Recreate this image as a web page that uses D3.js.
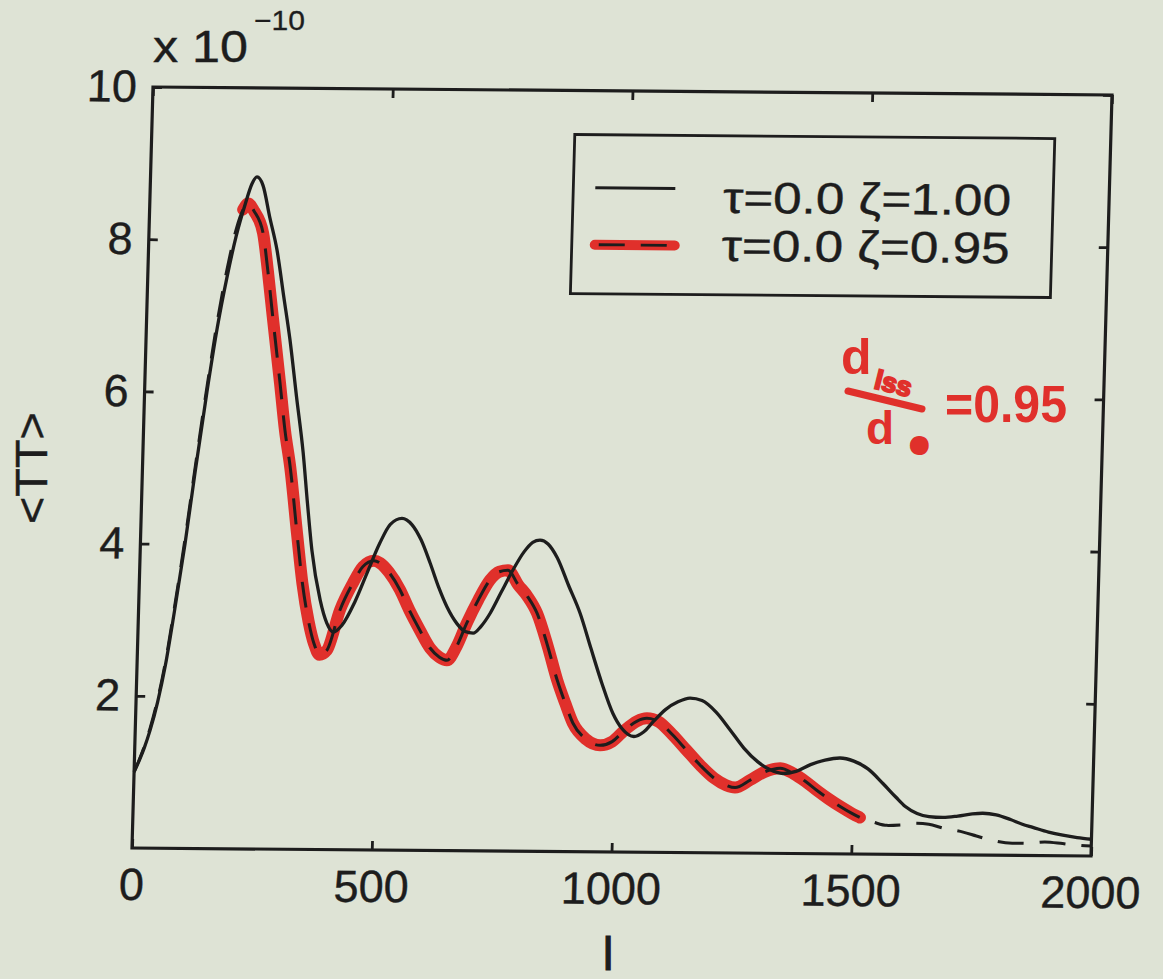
<!DOCTYPE html>
<html><head><meta charset="utf-8">
<script src="https://cdn.jsdelivr.net/npm/d3@7"></script>
<style>html,body{margin:0;padding:0;background:#dee3d5;} svg{display:block}</style>
</head><body><svg id="c" width="1163" height="979"></svg>
<script>
// ---- data ----
const xTicks = [0, 500, 1000, 1500, 2000];
const xTickLabels = ["0", "500", "1000", "1500", "2000"];
const yTicks = [2, 4, 6, 8, 10];
const yTickLabels = ["2", "4", "6", "8", "10"];
const legendLabels = ["τ=0.0 ζ=1.00", "τ=0.0 ζ=0.95"];
const xLabel = "l";
const yLabel = "<TT>";
const expBase = "x 10";
const expPower = "−10";

// tau=0.0 zeta=1.00 (solid black)
const zeta100 = [[0,1.00],[10,1.15],[20,1.32],[31,1.55],[45,1.92],[59,2.4],[75,3.12],[93,4.0],[110,4.95],[130,6.0],[148,6.85],[165,7.5],[182,8.05],[199,8.47],[212,8.74],[222,8.83],[235,8.72],[251,8.30],[268,7.87],[285,7.25],[300,6.7],[317,5.95],[334,5.22],[346,4.55],[358,3.93],[378,3.28],[393,2.98],[407,2.86],[425,2.95],[450,3.25],[475,3.65],[499,4.03],[520,4.28],[544,4.36],[565,4.28],[585,4.08],[605,3.78],[625,3.45],[643,3.2],[665,2.98],[682,2.88],[699,2.86],[715,2.95],[733,3.12],[755,3.4],[778,3.69],[800,3.93],[818,4.06],[833,4.09],[850,4.04],[870,3.86],[895,3.5],[921,3.13],[945,2.68],[970,2.22],[995,1.82],[1015,1.62],[1040,1.52],[1060,1.58],[1080,1.72],[1105,1.88],[1130,1.98],[1155,2.03],[1180,2.0],[1210,1.85],[1240,1.62],[1270,1.38],[1300,1.2],[1325,1.1],[1353,1.05],[1380,1.08],[1410,1.17],[1440,1.23],[1471,1.26],[1500,1.22],[1530,1.12],[1562,0.93],[1590,0.75],[1610,0.63],[1635,0.54],[1660,0.5],[1689,0.49],[1720,0.51],[1750,0.54],[1772,0.55],[1800,0.53],[1830,0.47],[1855,0.41],[1877,0.37],[1910,0.31],[1940,0.27],[1970,0.24],[2000,0.22]];

// tau=0.0 zeta=0.95 (dashed black, hand-marked in red)
const zeta095 = [[0,1.00],[10,1.16],[20,1.34],[31,1.58],[45,1.96],[59,2.45],[75,3.18],[93,4.08],[110,5.02],[130,6.08],[148,6.95],[165,7.62],[182,8.15],[195,8.40],[205,8.48],[218,8.38],[238,8.09],[250,7.6],[263,6.99],[282,6.12],[295,5.5],[308,5.02],[326,4.15],[340,3.5],[355,3.0],[368,2.7],[380,2.56],[395,2.62],[420,3.15],[445,3.5],[465,3.72],[488,3.8],[501,3.77],[520,3.65],[544,3.42],[565,3.15],[588,2.89],[610,2.66],[630,2.54],[646,2.5],[665,2.68],[685,2.99],[708,3.3],[731,3.56],[750,3.67],[768,3.69],[790,3.5],[810,3.35],[831,3.13],[855,2.7],[877,2.25],[895,1.95],[912,1.69],[940,1.48],[970,1.40],[995,1.45],[1020,1.6],[1045,1.72],[1066,1.76],[1090,1.72],[1120,1.55],[1150,1.35],[1180,1.15],[1210,0.98],[1235,0.89],[1254,0.86],[1285,0.96],[1315,1.07],[1347,1.12],[1375,1.05],[1400,0.95],[1425,0.83],[1450,0.72],[1475,0.62],[1500,0.53],[1516,0.48],[1545,0.42],[1573,0.38],[1605,0.39],[1635,0.41],[1660,0.40],[1690,0.35],[1732,0.30],[1760,0.25],[1789,0.20],[1835,0.16],[1870,0.16],[1903,0.18],[1940,0.16],[1970,0.14],[2000,0.13]];

// l-range covered by the red marker
const markRange = [195, 1518];

// ---- drawing ----
const svg = d3.select("#c");
const bg = "#dee3d5", ink = "#1d1d1d", red = "#e0302b";
const font = "'Liberation Sans', Arial, Helvetica, sans-serif";
svg.append("rect").attr("width", 1163).attr("height", 979).attr("fill", bg);

const W = 959, H = 761;
// scanned page is slightly sheared
const g = svg.append("g").attr("transform", "matrix(1,0.00834,-0.0276,1,153,87)");
const x = d3.scaleLinear().domain([0, 2000]).range([0, W]);
const y = d3.scaleLinear().domain([0, 10]).range([H, 0]);

const line = d3.line().x(d => x(d[0])).y(d => y(d[1])).curve(d3.curveMonotoneX);

// red marker
g.append("path").datum(zeta095.filter(d => d[0] >= markRange[0] && d[0] <= markRange[1]))
  .attr("d", line).attr("fill", "none").attr("stroke", red).attr("stroke-width", 12)
  .attr("stroke-linecap", "round").attr("stroke-linejoin", "round");
// dashed
g.append("path").datum(zeta095).attr("d", line).attr("fill", "none")
  .attr("stroke", ink).attr("stroke-width", 3).attr("stroke-dasharray", "26,16");
// solid
g.append("path").datum(zeta100).attr("d", line).attr("fill", "none")
  .attr("stroke", ink).attr("stroke-width", 3.3);

function styleAxis(sel, fs) {
  sel.select(".domain").remove();
  sel.selectAll(".tick line").attr("stroke", ink).attr("stroke-width", 2.8);
  sel.selectAll(".tick text").attr("fill", ink).attr("font-size", fs).attr("font-family", font)
    .attr("stroke", ink).attr("stroke-width", 0.4);
}
const axL = g.append("g").call(d3.axisLeft(y).tickValues(yTicks).tickFormat((d, i) => yTickLabels[i])
  .tickSizeInner(-9).tickSizeOuter(0).tickPadding(16));
styleAxis(axL, 45);
const axR = g.append("g").attr("transform", `translate(${W},0)`)
  .call(d3.axisRight(y).tickValues(yTicks).tickFormat("").tickSizeInner(-9).tickSizeOuter(0));
styleAxis(axR, 45);
const axB = g.append("g").attr("transform", `translate(0,${H})`)
  .call(d3.axisBottom(x).tickValues(xTicks).tickFormat((d, i) => xTickLabels[i])
  .tickSizeInner(-9).tickSizeOuter(0).tickPadding(20));
styleAxis(axB, 45);
const axT = g.append("g")
  .call(d3.axisTop(x).tickValues(xTicks).tickFormat("").tickSizeInner(-9).tickSizeOuter(0));
styleAxis(axT, 45);

g.append("rect").attr("width", W).attr("height", H).attr("fill", "none")
  .attr("stroke", ink).attr("stroke-width", 3.2);

// legend
const lg = g.append("g").attr("transform", "translate(423,44)");
lg.append("rect").attr("width", 480).attr("height", 159).attr("fill", "none")
  .attr("stroke", ink).attr("stroke-width", 2.8);
const rows = [53, 110];
lg.append("line").attr("x1", 22).attr("x2", 102).attr("y1", rows[0]).attr("y2", rows[0])
  .attr("stroke", ink).attr("stroke-width", 3);
lg.append("line").attr("x1", 23).attr("x2", 103).attr("y1", rows[1]).attr("y2", rows[1])
  .attr("stroke", red).attr("stroke-width", 10).attr("stroke-linecap", "round");
lg.append("line").attr("x1", 23).attr("x2", 103).attr("y1", rows[1]).attr("y2", rows[1])
  .attr("stroke", ink).attr("stroke-width", 2.8).attr("stroke-dasharray", "26,16").attr("stroke-dashoffset", -4);
legendLabels.forEach((t, i) => {
  lg.append("text").attr("x", 150).attr("y", [77, 125][i]).text(t)
    .attr("font-family", font).attr("font-size", 44).attr("fill", ink)
    .attr("stroke", ink).attr("stroke-width", 0.4)
    .attr("textLength", 288).attr("lengthAdjust", "spacingAndGlyphs");
});

// axis titles
svg.append("text").attr("transform", "translate(47,468) rotate(-90)").attr("text-anchor", "middle")
  .attr("font-family", font).attr("font-size", 45).attr("fill", ink)
  .attr("stroke", ink).attr("stroke-width", 0.4).attr("textLength", 112)
  .attr("lengthAdjust", "spacingAndGlyphs").text(yLabel);
svg.append("text").attr("x", 608).attr("y", 970).attr("text-anchor", "middle")
  .attr("font-family", font).attr("font-size", 46).attr("fill", ink)
  .attr("stroke", ink).attr("stroke-width", 1.2).text(xLabel);
svg.append("text").attr("x", 153).attr("y", 62).attr("font-family", font).attr("font-size", 45)
  .attr("fill", ink).attr("stroke", ink).attr("stroke-width", 0.4)
  .attr("textLength", 95).attr("lengthAdjust", "spacingAndGlyphs").text(expBase);
svg.append("text").attr("x", 254).attr("y", 30).attr("font-family", font).attr("font-size", 28)
  .attr("fill", ink).attr("stroke", ink).attr("stroke-width", 0.3)
  .attr("textLength", 51).attr("lengthAdjust", "spacingAndGlyphs").text(expPower);

// handwritten red annotation
const an = svg.append("g").attr("fill", red).attr("font-family", font).attr("font-weight", "bold");
an.append("text").attr("x", 841).attr("y", 374).attr("font-size", 50).text("d");
an.append("text").attr("transform", "translate(873,388) rotate(14)").attr("font-size", 27)
  .attr("stroke", red).attr("stroke-width", 2).text("lss");
an.append("line").attr("x1", 848).attr("y1", 391).attr("x2", 922).attr("y2", 409)
  .attr("stroke", red).attr("stroke-width", 7).attr("stroke-linecap", "round");
an.append("text").attr("x", 866).attr("y", 444).attr("font-size", 46).text("d");
an.append("text").attr("x", 912).attr("y", 452).attr("font-size", 24)
  .attr("stroke", red).attr("stroke-width", 6).text("o");
an.append("text").attr("x", 945).attr("y", 422).attr("font-size", 52)
  .attr("textLength", 122).attr("lengthAdjust", "spacingAndGlyphs").text("=0.95");
</script></body></html>
